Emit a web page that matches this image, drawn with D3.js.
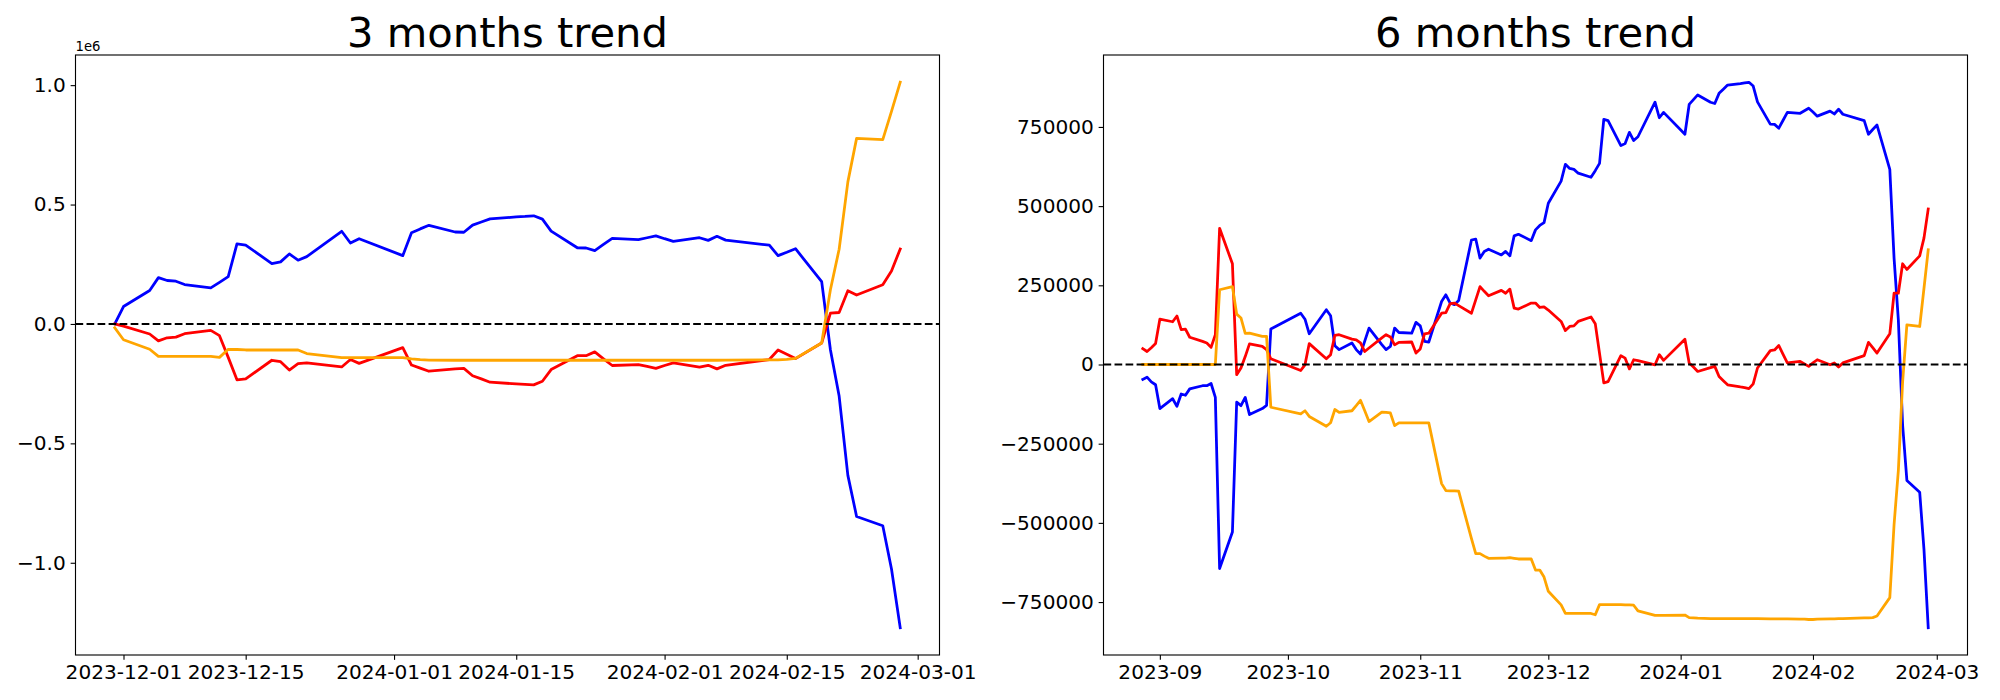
<!DOCTYPE html>
<html><head><meta charset="utf-8">
<script src="https://cdn.jsdelivr.net/npm/d3@7"></script>
<style>
html,body{margin:0;padding:0;background:#fff;}
svg{display:block;}
text{font-family:"DejaVu Sans",sans-serif;}
</style></head><body>
<svg id="chart" width="2000" height="700"></svg>
<script>
// ---------- DATA ----------
const leftTitle = "3 months trend";
const rightTitle = "6 months trend";
const seriesColors = ["#0000ff", "#ff0000", "#ffa500"];

const leftDates = ["2023-11-30","2023-12-01","2023-12-04","2023-12-05","2023-12-06","2023-12-07","2023-12-08","2023-12-11","2023-12-12","2023-12-13","2023-12-14","2023-12-15","2023-12-18","2023-12-19","2023-12-20","2023-12-21","2023-12-22","2023-12-26","2023-12-27","2023-12-28","2024-01-02","2024-01-03","2024-01-04","2024-01-05","2024-01-08","2024-01-09","2024-01-10","2024-01-11","2024-01-12","2024-01-15","2024-01-16","2024-01-17","2024-01-18","2024-01-19","2024-01-22","2024-01-23","2024-01-24","2024-01-25","2024-01-26","2024-01-29","2024-01-30","2024-01-31","2024-02-01","2024-02-02","2024-02-05","2024-02-06","2024-02-07","2024-02-08","2024-02-13","2024-02-14","2024-02-15","2024-02-16","2024-02-19","2024-02-20","2024-02-21","2024-02-22","2024-02-23","2024-02-26","2024-02-27","2024-02-28"];
// values in thousands
const leftBlue = [0,73,140,194,182,179,165,151,174,198,335,330,253,260,293,267,282,388,339,357,286,382,398,413,385,384,414,427,440,448,450,453,439,389,319,318,307,333,358,353,361,369,357,346,361,350,367,351,330,286,300,315,177,-108,-302,-634,-806,-845,-1026,-1272];
const leftRed = [0,-9,-42,-71,-58,-55,-41,-27,-49,-140,-234,-230,-152,-158,-193,-166,-163,-180,-149,-165,-99,-172,-185,-198,-188,-186,-217,-230,-244,-251,-253,-255,-240,-191,-133,-133,-117,-146,-174,-170,-178,-186,-174,-163,-181,-173,-188,-173,-149,-109,-127,-145,-80,45,48,139,121,164,222,314];
const leftOrange = [-16,-66,-106,-136,-136,-136,-136,-136,-140,-106,-107,-109,-109,-109,-109,-109,-124,-141,-141,-141,-141,-146,-149,-151,-152,-152,-152,-152,-152,-152,-152,-152,-152,-152,-152,-152,-152,-152,-152,-152,-152,-152,-152,-152,-152,-152,-152,-151,-150,-150,-148,-144,-80,143,313,595,777,772,890,1012];

const rightDates = ["2023-08-28","2023-08-29","2023-08-30","2023-08-31","2023-09-01","2023-09-04","2023-09-05","2023-09-06","2023-09-07","2023-09-08","2023-09-11","2023-09-12","2023-09-13","2023-09-14","2023-09-15","2023-09-18","2023-09-19","2023-09-20","2023-09-21","2023-09-22","2023-09-25","2023-09-26","2023-09-27","2023-10-04","2023-10-05","2023-10-06","2023-10-10","2023-10-11","2023-10-12","2023-10-13","2023-10-16","2023-10-17","2023-10-18","2023-10-19","2023-10-20","2023-10-23","2023-10-24","2023-10-25","2023-10-26","2023-10-27","2023-10-30","2023-10-31","2023-11-01","2023-11-02","2023-11-03","2023-11-06","2023-11-07","2023-11-08","2023-11-09","2023-11-10","2023-11-13","2023-11-14","2023-11-15","2023-11-16","2023-11-17","2023-11-20","2023-11-21","2023-11-22","2023-11-23","2023-11-24","2023-11-27","2023-11-28","2023-11-29","2023-11-30","2023-12-01","2023-12-04","2023-12-05","2023-12-06","2023-12-07","2023-12-08","2023-12-11","2023-12-12","2023-12-13","2023-12-14","2023-12-15","2023-12-18","2023-12-19","2023-12-20","2023-12-21","2023-12-22","2023-12-26","2023-12-27","2023-12-28","2024-01-02","2024-01-03","2024-01-04","2024-01-05","2024-01-08","2024-01-09","2024-01-10","2024-01-11","2024-01-12","2024-01-15","2024-01-16","2024-01-17","2024-01-18","2024-01-19","2024-01-22","2024-01-23","2024-01-24","2024-01-25","2024-01-26","2024-01-29","2024-01-30","2024-01-31","2024-02-01","2024-02-02","2024-02-05","2024-02-06","2024-02-07","2024-02-08","2024-02-13","2024-02-14","2024-02-15","2024-02-16","2024-02-19","2024-02-20","2024-02-21","2024-02-22","2024-02-23","2024-02-26","2024-02-27","2024-02-28"];
const rightBlue = [-47,-40,-55,-64,-139,-108,-132,-93,-97,-77,-67,-67,-60,-104,-644,-529,-119,-130,-104,-158,-139,-129,112,162,143,97,173,154,59,47,68,47,33,74,115,63,47,57,115,101,99,133,122,73,71,199,220,194,189,202,393,396,336,357,364,346,357,343,406,411,391,425,439,448,509,579,632,619,616,604,591,612,635,774,770,691,698,733,707,719,828,779,796,727,821,836,851,828,824,856,869,882,887,889,891,879,829,759,758,746,771,796,793,801,809,797,784,800,791,806,790,770,727,742,756,616,335,141,-191,-366,-403,-583,-831];
const rightRed = [50,41,53,66,143,135,153,110,112,86,73,68,54,94,430,318,-32,-11,25,65,57,47,18,-19,-1,66,18,31,92,94,80,78,68,41,52,84,94,87,62,70,71,36,49,97,99,162,164,192,194,186,162,204,246,231,217,234,225,238,178,175,194,194,180,182,172,136,107,120,122,136,150,129,35,-58,-54,28,20,-14,15,12,-1,31,13,80,5,-8,-22,-10,-6,-38,-51,-64,-71,-73,-76,-61,-11,44,46,60,32,5,10,2,-6,5,15,-1,5,-8,5,28,70,53,36,97,225,225,318,300,343,399,491];
const rightOrange = [0,0,0,0,0,0,0,0,0,0,0,0,0,0,236,246,159,147,98,99,89,89,-135,-156,-146,-164,-195,-184,-142,-151,-146,-130,-113,-146,-180,-150,-151,-153,-193,-184,-184,-184,-184,-184,-184,-376,-398,-399,-399,-400,-550,-597,-597,-605,-612,-611,-611,-610,-612,-614,-614,-649,-649,-671,-716,-759,-786,-786,-786,-786,-786,-790,-758,-758,-758,-758,-759,-759,-760,-778,-792,-792,-792,-791,-799,-800,-801,-802,-802,-802,-802,-802,-802,-802,-802,-802,-802,-803,-803,-803,-803,-803,-804,-804,-805,-805,-804,-803,-803,-802,-802,-800,-800,-799,-794,-736,-505,-335,-55,125,120,240,362];

const leftXTicks = ["2023-12-01","2023-12-15","2024-01-01","2024-01-15","2024-02-01","2024-02-15","2024-03-01"];
const rightXTicks = ["2023-09-01","2023-10-01","2023-11-01","2023-12-01","2024-01-01","2024-02-01","2024-03-01"];
const leftYTicks = [-1000000,-500000,0,500000,1000000];
const rightYTicks = [-750000,-500000,-250000,0,250000,500000,750000];
const leftOffsetLabel = "1e6";

// ---------- DRAW ----------
const svg = d3.select("#chart");
svg.append("rect").attr("width",2000).attr("height",700).attr("fill","#fff");
const parse = d3.utcParse("%Y-%m-%d");
const minus = s => s.replace(/-/g, "\u2212");
const TICK = 4.86, LW = 2.78, DLW = 2.08, FS = 20.1;

function panel(cfg){
  const {x0, y0, w, h, dates, series, xTicks, xFmt, yTicks, yFmt, title, offset} = cfg;
  const ds = dates.map(parse);
  const [dmin, dmax] = d3.extent(ds);
  const span = dmax - dmin;
  const x = d3.scaleUtc().domain([new Date(+dmin - 0.05*span), new Date(+dmax + 0.05*span)]).range([x0, x0+w]);
  const all = series.flatMap(s => s.values.map(v => v*1000));
  const [vmin, vmax] = d3.extent(all);
  const vs = vmax - vmin;
  const y = d3.scaleLinear().domain([vmin - 0.05*vs, vmax + 0.05*vs]).range([y0+h, y0]);
  const g = svg.append("g");
  const cid = "clip" + Math.round(x0);
  g.append("clipPath").attr("id", cid).append("rect").attr("x", x0).attr("y", y0).attr("width", w).attr("height", h);
  const plot = g.append("g").attr("clip-path", `url(#${cid})`);
  series.forEach(s => {
    const line = d3.line().x((d,i) => x(ds[i])).y(d => y(d*1000));
    plot.append("path").datum(s.values).attr("d", line)
      .attr("fill","none").attr("stroke", s.color).attr("stroke-width", LW)
      .attr("stroke-linejoin","round").attr("stroke-linecap","square");
  });
  plot.append("line").attr("x1", x0).attr("x2", x0+w).attr("y1", y(0)).attr("y2", y(0))
    .attr("stroke","#000").attr("stroke-width", DLW).attr("stroke-dasharray","7.7,3.33");
  // axes
  const xa = g.append("g").attr("transform", `translate(0,${y0+h})`)
    .call(d3.axisBottom(x).tickValues(xTicks.map(parse)).tickFormat(xFmt).tickSize(TICK).tickPadding(TICK));
  const ya = g.append("g").attr("transform", `translate(${x0},0)`)
    .call(d3.axisLeft(y).tickValues(yTicks).tickFormat(yFmt).tickSize(TICK).tickPadding(TICK));
  [xa, ya].forEach(a => {
    a.select(".domain").remove();
    a.attr("font-family", "DejaVu Sans").attr("font-size", FS);
    a.selectAll("line").attr("stroke", "#000").attr("stroke-width", 1.11);
    a.selectAll("text").attr("fill", "#000");
  });
  g.append("rect").attr("x", x0).attr("y", y0).attr("width", w).attr("height", h)
    .attr("fill","none").attr("stroke","#000").attr("stroke-width",1.11);
  g.append("text").attr("x", x0 + w/2).attr("y", 46.7).attr("text-anchor","middle")
    .attr("font-size", 41.67).attr("fill","#000").text(title);
  if (offset) {
    g.append("text").attr("x", x0).attr("y", 50.7).attr("font-size", 13.2).attr("fill","#000").text(offset);
  }
}

panel({x0:75.5, y0:55, w:864, h:600, dates:leftDates,
  series:[{values:leftBlue,color:seriesColors[0]},{values:leftRed,color:seriesColors[1]},{values:leftOrange,color:seriesColors[2]}],
  xTicks:leftXTicks, xFmt:d3.utcFormat("%Y-%m-%d"),
  yTicks:leftYTicks, yFmt:v => minus((v/1e6).toFixed(1)), title:leftTitle, offset:leftOffsetLabel});

panel({x0:1103.5, y0:55, w:864, h:600, dates:rightDates,
  series:[{values:rightBlue,color:seriesColors[0]},{values:rightRed,color:seriesColors[1]},{values:rightOrange,color:seriesColors[2]}],
  xTicks:rightXTicks, xFmt:d3.utcFormat("%Y-%m"),
  yTicks:rightYTicks, yFmt:v => minus(String(v)), title:rightTitle, offset:null});
</script>
</body></html>
